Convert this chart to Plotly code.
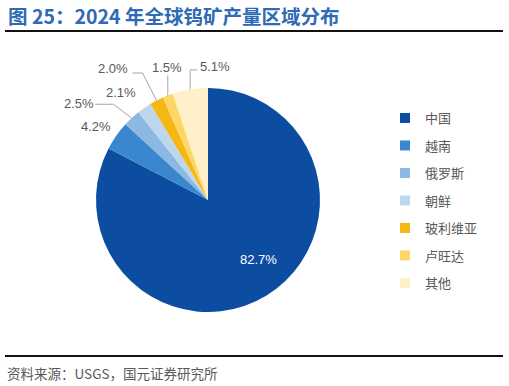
import math
import plotly.graph_objects as go

# ---------------- data ----------------
regions = ["中国", "越南", "俄罗斯", "朝鲜", "玻利维亚", "卢旺达", "其他"]
shares = [82.7, 4.2, 2.5, 2.1, 2.0, 1.5, 5.1]
share_labels = ["82.7%", "4.2%", "2.5%", "2.1%", "2.0%", "1.5%", "5.1%"]
colors = ["#0C4DA2", "#3A86CF", "#8CB8E1", "#BDD7EE", "#F6B614", "#FDD766", "#FFF0CA"]

title_text = "图 25：2024 年全球钨矿产量区域分布"
source_text = "资料来源：USGS，国元证券研究所"

# ---------------- layout constants (pixels) ----------------
W, H = 509, 386
CX, CY, R = 208, 200, 112  # pie centre / radius

# label placement: radius fraction for anchor, label offset, leader path offsets
label_cfg = [
    dict(rf=0.70, d=(10, -7), path=None, color="white"),
    dict(rf=1.0, d=(-20, -9), path=None, color="#595959"),
    dict(rf=1.0, d=(-53, -15), path=[(-18.3, -13.8), (-36.6, -13.8)], color="#595959"),
    dict(rf=1.0, d=(-23, -15), path=None, color="#595959"),
    dict(rf=1.0, d=(-44, -32), path=[(-14, -27.5), (-24, -27.5)], color="#595959"),
    dict(rf=1.0, d=(-1, -28), path=[(0, -20)], color="#595959"),
    dict(rf=1.0, d=(25, -23), path=[(0, -19.5), (7, -19.5)], color="#595959"),
]


def px_x(x):
    return x / W


def px_y(y):
    return 1 - y / H


fig = go.Figure()

fig.add_trace(go.Pie(
    labels=regions,
    values=shares,
    sort=False,
    direction="clockwise",
    rotation=0,
    marker=dict(colors=colors, line=dict(width=0)),
    textinfo="none",
    showlegend=False,
    hoverinfo="label+percent",
    domain=dict(x=[px_x(CX - R), px_x(CX + R)], y=[px_y(CY + R), px_y(CY - R)]),
))

# legend entries (dummy traces so spacing can be controlled)
for i, (name, c) in enumerate(zip(regions, colors)):
    fig.add_trace(go.Scatter(
        x=[None], y=[None], mode="markers", name=name,
        marker=dict(symbol="square", size=10, color=c),
        legendgroup=f"g{i}", showlegend=True,
    ))

# labels + leader lines, computed from slice angles
total = sum(shares)
annotations = []
shapes = []
cum = 0.0
for v, lab, cfg in zip(shares, share_labels, label_cfg):
    mid = (cum + v / 2) / total * 2 * math.pi
    cum += v
    ex = CX + cfg["rf"] * R * math.sin(mid)
    ey = CY - cfg["rf"] * R * math.cos(mid)
    lx, ly = ex + cfg["d"][0], ey + cfg["d"][1]
    annotations.append(dict(
        x=px_x(lx), y=px_y(ly), xref="paper", yref="paper",
        text=lab, showarrow=False, xanchor="center", yanchor="middle",
        font=dict(family="Liberation Sans, Arial", size=13, color=cfg["color"]),
    ))
    if cfg["path"]:
        pts = [(ex, ey)] + [(ex + dx, ey + dy) for dx, dy in cfg["path"]]
        p = "M " + " L ".join(f"{px_x(a):.5f},{px_y(b):.5f}" for a, b in pts)
        shapes.append(dict(type="path", path=p, xref="paper", yref="paper",
                           line=dict(color="#A6A6A6", width=1)))

# title / source
annotations.append(dict(
    x=px_x(6), y=px_y(15.5), xref="paper", yref="paper", xanchor="left", yanchor="middle",
    text=f"<b>{title_text}</b>", showarrow=False,
    font=dict(family="Noto Sans CJK SC", size=19.5, color="#2E6AB5"),
))
annotations.append(dict(
    x=px_x(5), y=px_y(373), xref="paper", yref="paper", xanchor="left", yanchor="middle",
    text=source_text, showarrow=False,
    font=dict(family="Noto Sans CJK SC", size=13.5, color="#595959"),
))
shapes.append(dict(type="line", xref="paper", yref="paper",
                   x0=px_x(5), x1=px_x(503), y0=px_y(31), y1=px_y(31),
                   line=dict(color="#111111", width=2)))
shapes.append(dict(type="line", xref="paper", yref="paper",
                   x0=px_x(5), x1=px_x(503), y0=px_y(356), y1=px_y(356),
                   line=dict(color="#111111", width=2)))

fig.update_layout(
    width=W, height=H,
    margin=dict(l=0, r=0, t=0, b=0),
    paper_bgcolor="white", plot_bgcolor="white",
    xaxis=dict(visible=False), yaxis=dict(visible=False),
    annotations=annotations, shapes=shapes,
    legend=dict(
        x=px_x(385), y=px_y(103), xanchor="left", yanchor="top",
        font=dict(family="Noto Sans CJK SC", size=13, color="#595959"),
        tracegroupgap=7.6, bgcolor="rgba(0,0,0,0)",
    ),
)

fig.write_html("out.html", config={"displayModeBar": False},
               post_script="document.body.style.margin='0';")
